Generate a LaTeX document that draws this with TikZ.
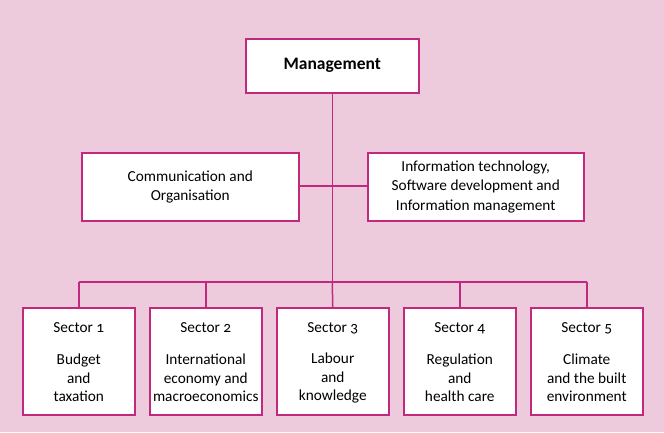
\documentclass[tikz,border=0pt]{standalone}
\usepackage{fontspec}
\setmainfont[Numbers=OldStyle]{Carlito}
\definecolor{bgpink}{HTML}{EDCBDC}
\definecolor{linemag}{HTML}{C0297F}
\begin{document}
\begin{tikzpicture}[x=1pt,y=-1pt,
  box/.style={draw=linemag,line width=1.5pt,fill=white,align=center,inner sep=0pt,anchor=north west},
  conn/.style={draw=linemag,line width=1.5pt},
  txt/.style={font=\fontsize{15.3}{19.5}\selectfont}]
\fill[bgpink] (0,0) rectangle (664,432);
\useasboundingbox (0,0) rectangle (664,432);
\node[box,minimum width=173pt,minimum height=54pt,font=\fontsize{17.5}{19}\selectfont\bfseries] (mgmt) at (245,38) {Management};
\node[box,minimum width=217pt,minimum height=68pt,txt] (comm) at (81,152) {Communication and\\Organisation};
\node[box,minimum width=216pt,minimum height=68pt,txt] (it) at (367,152) {Information technology,\\Software development and\\Information management};
\foreach \i/\x/\a/\b/\c in {1/22/Budget/and/taxation,2/149/International/economy and/macroeconomics,3/276/Labour/and/knowledge,4/403/Regulation/and/health care,5/530/Climate/and the built/environment}{
  \node[box,minimum width=112pt,minimum height=107pt] (s\i) at (\x,307) {};
  \node[txt,anchor=center] (t\i) at ([yshift=-21pt]s\i.north) {Sector \i};
  \node[txt,anchor=center,align=center,font=\fontsize{15.3}{18.5}\selectfont] (b\i) at ([yshift=-71pt]s\i.north) {\a\\\b\\\c};
}
\coordinate (bus) at (mgmt.south |- 0,282);
\coordinate (mid) at (mgmt.south |- 0,186);
\draw[conn] (mgmt.south) -- (bus);
\draw[conn] (comm.east |- mid) -- (it.west |- mid);
\draw[conn] (s1.north |- bus) -- (s5.north |- bus);
\foreach \i in {1,2,4,5}{\draw[conn] (s\i.north |- bus) -- (s\i.north);}
\draw[conn] (bus) -- (s3.north);
\end{tikzpicture}
\end{document}
